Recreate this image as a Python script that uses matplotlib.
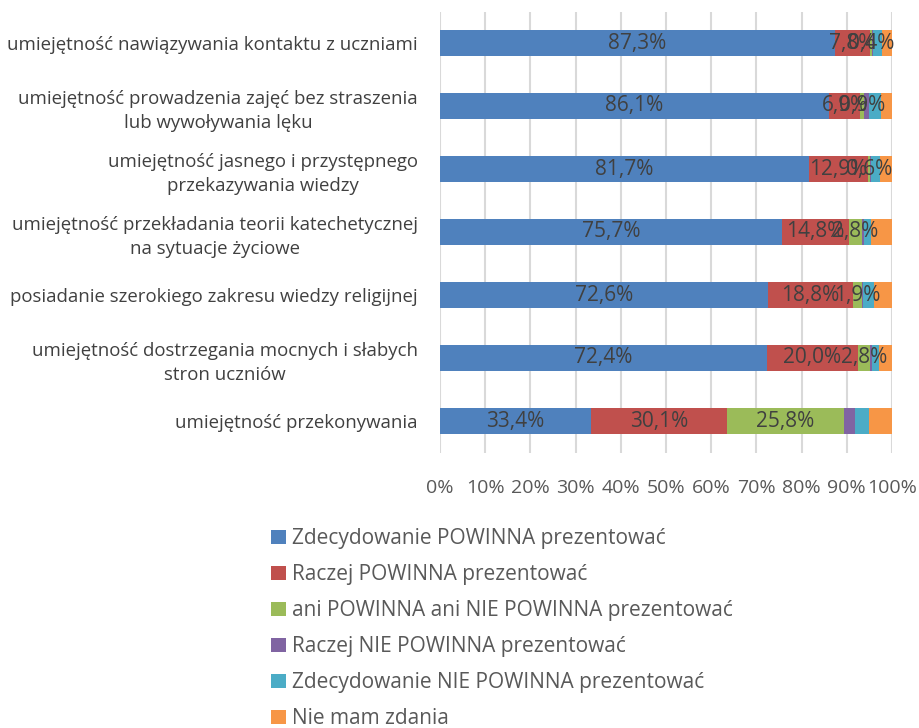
import matplotlib
matplotlib.use("Agg")
import matplotlib.pyplot as plt
import numpy as np

categories = [
    "umiejętność nawiązywania kontaktu z uczniami",
    "umiejętność prowadzenia zajęć bez straszenia\nlub wywoływania lęku",
    "umiejętność jasnego i przystępnego\nprzekazywania wiedzy",
    "umiejętność przekładania teorii katechetycznej\nna sytuacje życiowe",
    "posiadanie szerokiego zakresu wiedzy religijnej",
    "umiejętność dostrzegania mocnych i słabych\nstron uczniów",
    "umiejętność przekonywania",
]
series_names = [
    "Zdecydowanie POWINNA prezentować",
    "Raczej POWINNA prezentować",
    "ani POWINNA ani NIE POWINNA prezentować",
    "Raczej NIE POWINNA prezentować",
    "Zdecydowanie NIE POWINNA prezentować",
    "Nie mam zdania",
]
zdecydowanie_powinna = [87.3, 86.1, 81.7, 75.7, 72.6, 72.4, 33.4]
raczej_powinna = [7.8, 6.9, 12.9, 14.8, 18.8, 20.0, 30.1]
ani_ani = [0.4, 0.9, 0.6, 2.8, 1.9, 2.8, 25.8]
raczej_nie = [0.2, 1.0, 0.1, 0.6, 0.3, 0.4, 2.6]
zdecydowanie_nie = [2.0, 2.7, 2.1, 1.5, 2.4, 1.5, 3.1]
nie_mam_zdania = [2.3, 2.4, 2.6, 4.6, 4.0, 2.9, 5.0]
tick_labels = ["0%", "10%", "20%", "30%", "40%", "50%", "60%", "70%", "80%", "90%", "100%"]

data = [zdecydowanie_powinna, raczej_powinna, ani_ani, raczej_nie, zdecydowanie_nie, nie_mam_zdania]
colors = ["#4F81BD", "#C0504D", "#9BBB59", "#8064A2", "#4BACC6", "#F79646"]
labelled = [True, True, True, False, False, False]

plt.rcParams['font.family'] = ['Open Sans', 'DejaVu Sans']
fig = plt.figure(figsize=(9.19, 7.28), dpi=100)
ax = fig.add_axes([440/919, 1-452.5/728, 452/919, 441/728])

y = np.arange(len(categories))
left = np.zeros(len(categories))
handles = []
for vals, col, name, lab in zip(data, colors, series_names, labelled):
    vals = np.array(vals)
    b = ax.barh(y, vals, left=left, height=0.42, color=col, label=name, zorder=3)
    handles.append(b)
    if lab:
        for yi, (l, v) in enumerate(zip(left, vals)):
            ax.text(l + v/2, yi, f"{v:.1f}%".replace(".", ","), ha="center", va="center",
                    fontsize=15, color="#404040", zorder=4)
    left = left + vals

ax.set_ylim(len(categories)-0.5, -0.5)
ax.set_xlim(0, 100)
ax.set_xticks(np.arange(0, 101, 10))
ax.set_xticklabels(tick_labels, fontsize=14, color="#595959")
ax.set_yticks(y)
ax.set_yticklabels(categories, fontsize=13.4, color="#404040", multialignment="center",
                   linespacing=1.45)
ax.tick_params(axis="x", length=0, pad=19)
ax.tick_params(axis="y", length=0, pad=16)
for s in ax.spines.values():
    s.set_visible(False)
ax.xaxis.grid(True, color="#D9D9D9", linewidth=1.5, zorder=0)
ax.set_axisbelow(True)

fig.legend(handles=handles, labels=series_names, loc="upper left",
           bbox_to_anchor=(263/919, 1-520/728), frameon=False, fontsize=15,
           handlelength=0.72, handleheight=0.72, handletextpad=0.25,
           labelspacing=0.72, labelcolor="#595959", borderaxespad=0)

fig.savefig("out.png", dpi=100)
